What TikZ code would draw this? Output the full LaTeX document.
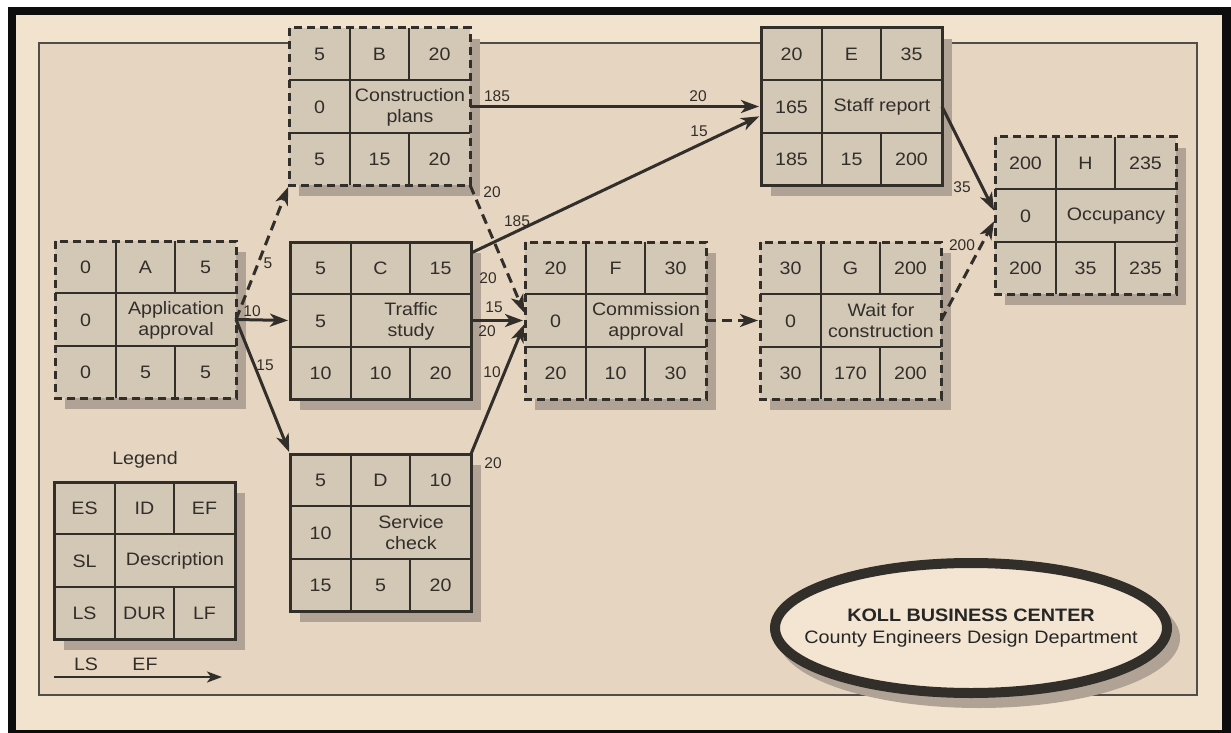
\documentclass[tikz,border=0pt]{standalone}
\usepackage{fontspec}
\setmainfont{Liberation Sans}
\newfontfamily\boxfont[FakeStretch=1.09]{Liberation Sans}
\newfontfamily\ovalfont[FakeStretch=1.1]{Liberation Sans}
\usetikzlibrary{arrows.meta,calc,shapes.geometric}
\definecolor{pagebg}{RGB}{242,227,207}
\definecolor{panelbg}{RGB}{230,214,193}
\definecolor{cellbg}{RGB}{211,199,182}
\definecolor{shadowc}{RGB}{176,163,150}
\definecolor{ink}{RGB}{50,46,42}
\definecolor{ovalbg}{RGB}{243,229,210}
\tikzset{
  boxsolid/.style={draw=ink, line width=3pt},
  boxdashed/.style={draw=ink, line width=3pt, dash pattern=on 8pt off 5pt},
  cellbox/.style={rectangle, fill=cellbg, minimum width=181pt, minimum height=157pt, inner sep=0pt, outer sep=0pt},
  cellline/.style={draw=ink, line width=1.2pt},
  celltext/.style={font=\boxfont\fontsize{18}{21}\selectfont, text=ink, align=center, inner sep=0pt},
  arr/.style={draw=ink, line width=3pt, shorten >=2pt, -{Stealth[length=18pt,width=13pt,inset=5pt]}},
  darr/.style={arr, dash pattern=on 10pt off 6pt},
  elabel/.style={font=\fontsize{15.5}{17}\selectfont, text=ink, inner sep=0pt},
}
% #1 name, #2 x, #3 y, #4 border style, #5 ES, #6 ID, #7 EF, #8 SL, #9 description
\newcommand\actbox[9]{%
  \fill[shadowc] (#2+10,#3+11) rectangle ++(181,157);
  \node[cellbox] (#1) at (#2+90.5,#3+78.5) {};
  \draw[cellline] (#2,#3+52) -- ++(181,0);
  \draw[cellline] (#2,#3+105) -- ++(181,0);
  \draw[cellline] (#2+61,#3) -- ++(0,157);
  \draw[cellline] (#2+120,#3) -- ++(0,52);
  \draw[cellline] (#2+120,#3+105) -- ++(0,52);
  \draw[#4] (#1.north west) rectangle (#1.south east);
  \node[celltext] (#1es) at (#2+30.5,#3+26) {#5};
  \node[celltext] (#1id) at (#2+90.5,#3+26) {#6};
  \node[celltext] (#1ef) at (#2+150.5,#3+26) {#7};
  \node[celltext] (#1sl) at (#2+30.5,#3+79) {#8};
  \node[celltext] (#1desc) at (#2+121,#3+79) {#9};
}
\newcommand\actboxlow[4]{%
  \node[celltext] (#1ls) at ($(#1.north west)+(30.5,131)$) {#2};
  \node[celltext] (#1dur) at ($(#1.north west)+(90.5,131)$) {#3};
  \node[celltext] (#1lf) at ($(#1.north west)+(150.5,131)$) {#4};
}
\begin{document}
\begin{tikzpicture}[x=1pt,y=-1pt]
\useasboundingbox (0,0) rectangle (1231,733);
\fill[white] (0,0) rectangle (1231,733);
\fill[black!95] (8,7) rectangle (1231,733);
\fill[pagebg] (16,15) rectangle (1222,730);
\draw[fill=panelbg, draw=ink!85, line width=2pt] (39,43) rectangle (1197,695);

\actbox{A}{55}{241}{boxdashed}{0}{A}{5}{0}{Application\\approval}
\actboxlow{A}{0}{5}{5}
\actbox{B}{289}{28}{boxdashed}{5}{B}{20}{0}{Construction\\plans}
\actboxlow{B}{5}{15}{20}
\actbox{C}{290}{242}{boxsolid}{5}{C}{15}{5}{Traffic\\study}
\actboxlow{C}{10}{10}{20}
\actbox{D}{290}{454}{boxsolid}{5}{D}{10}{10}{Service\\check}
\actboxlow{D}{15}{5}{20}
\actbox{E}{761}{28}{boxsolid}{20}{E}{35}{165}{Staff report}
\actboxlow{E}{185}{15}{200}
\actbox{F}{525}{242}{boxdashed}{20}{F}{30}{0}{Commission\\approval}
\actboxlow{F}{20}{10}{30}
\actbox{G}{760}{242}{boxdashed}{30}{G}{200}{0}{Wait for\\construction}
\actboxlow{G}{30}{170}{200}
\actbox{H}{995}{137}{boxdashed}{200}{H}{235}{0}{Occupancy}
\actboxlow{H}{200}{35}{235}
\actbox{L}{54}{482}{boxsolid}{ES}{ID}{EF}{SL}{Description}
\actboxlow{L}{LS}{DUR}{LF}

\node[celltext] (legendtitle) at (145,460) {Legend};

% connectors
\draw[darr] (A.east) -- (B.south west);
\draw[arr] (A.east) -- (C.west);
\draw[arr] (A.east) -- (D.north west);
\draw[arr] (B.east) -- (E.west);
\draw[arr] ($(C.north east)+(0,11)$) -- ($(E.west)+(0,9)$);
\draw[darr] (B.south east) -- ($(F.west)+(0,-6)$);
\draw[arr] (C.east) -- (F.west);
\draw[arr] (D.north east) -- ($(F.west)+(0,2)$);
\draw[darr] (F.east) -- (G.west);
\draw[arr] (E.east) -- ($(H.west)+(0,-3)$);
\draw[darr] (G.east) -- ($(H.west)+(0,4)$);

% connector labels
\node[elabel] (t1) at (268,263) {5};
\node[elabel] (t2) at (252,311) {10};
\node[elabel] (t3) at (265,365) {15};
\node[elabel] (t4) at (497,96) {185};
\node[elabel] (t5) at (698,96) {20};
\node[elabel] (t6) at (699,131) {15};
\node[elabel] (t7) at (492,192) {20};
\node[elabel] (t8) at (517,221) {185};
\node[elabel] (t9) at (488,278) {20};
\node[elabel] (t10) at (494,307) {15};
\node[elabel] (t11) at (487,331) {20};
\node[elabel] (t12) at (492,372) {10};
\node[elabel] (t13) at (493,463) {20};
\node[elabel] (t14) at (962,187) {35};
\node[elabel] (t15) at (962,245) {200};

% legend arrow
\coordinate (la) at (54,677);
\coordinate (lb) at (222,677);
\draw[draw=ink, line width=2.5pt, -{Stealth[length=15pt,width=11pt,inset=4pt]}] (la) -- (lb);
\node[celltext] (lls) at (86,664) {LS};
\node[celltext] (lef) at (145,664) {EF};

% title oval
\fill[shadowc] (979,638) ellipse [x radius=201, y radius=70];
\draw[draw=ink, line width=10pt, fill=ovalbg] (971,628) ellipse [x radius=196, y radius=65];
\node[inner sep=0pt, align=center, text=black!85, font=\ovalfont\fontsize{18}{22}\selectfont] (title) at (971,628) {\textbf{KOLL BUSINESS CENTER}\\County Engineers Design Department};
\end{tikzpicture}
\end{document}
